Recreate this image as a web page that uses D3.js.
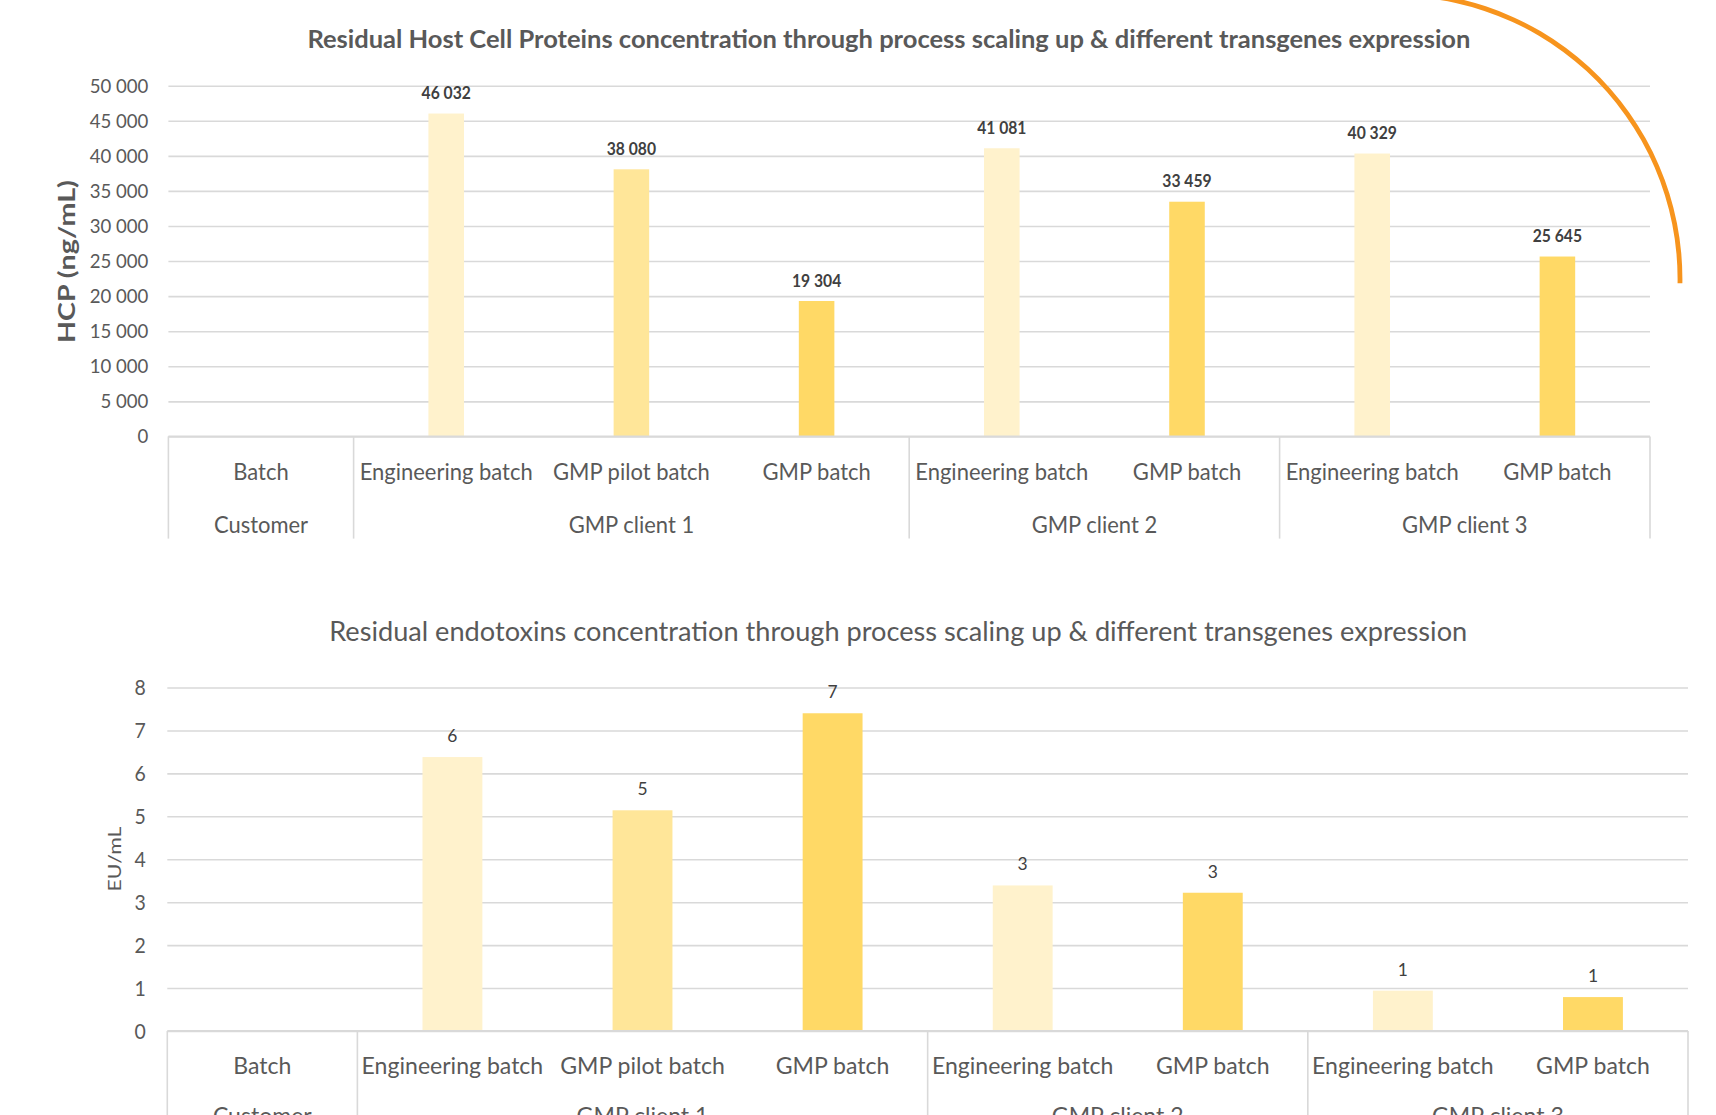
<!DOCTYPE html>
<html><head><meta charset="utf-8">
<script src="https://cdn.jsdelivr.net/npm/d3@7"></script>
<style>
body{margin:0;background:#fff;}
svg{display:block;}
text{font-family:Lato,'Open Sans',sans-serif;}
</style>
</head><body>
<svg id="c" width="1716" height="1115"></svg>
<script>
// ---------------- data ----------------
const batches = ["Batch","Engineering batch","GMP pilot batch","GMP batch","Engineering batch","GMP batch","Engineering batch","GMP batch"];
const customers = ["Customer","GMP client 1","GMP client 2","GMP client 3"];
const customerOf = [0,1,1,1,2,2,3,3];
const hcpValues = [null,46032,38080,19304,41081,33459,40329,25645];
const endoValues = [null,6.38,5.14,7.40,3.39,3.22,0.94,0.79];
const endoLabels = [null,"6","5","7","3","3","1","1"];
const hcpTicks = [0,5000,10000,15000,20000,25000,30000,35000,40000,45000,50000];
const endoTicks = [0,1,2,3,4,5,6,7,8];
const batchColors = {"Engineering batch":"#FFF2CC","GMP pilot batch":"#FFE699","GMP batch":"#FFD966"};
const hcpTitle = "Residual Host Cell Proteins concentration through process scaling up & different transgenes expression";
const endoTitle = "Residual endotoxins concentration through process scaling up & different transgenes expression";

// ---------------- helpers ----------------
const svg = d3.select("#c");
const GRID = "#D9D9D9", TXT = "#595959", LBL = "#404040";
const fmt = d3.formatLocale({decimal:",",thousands:" ",grouping:[3],currency:["","€"]}).format(",d");

function squeeze(sel,k){
  sel.each(function(){
    const w=this.getComputedTextLength();
    if(w>0){this.setAttribute("textLength",w*k);this.setAttribute("lengthAdjust","spacingAndGlyphs");}
  });
}
function kFor(size,weight,str,target){
  const t=svg.append("text").attr("font-size",size).attr("font-weight",weight).text(str);
  const w=t.node().getComputedTextLength(); t.remove(); return target/w;
}

function drawChart(cfg){
  const g = svg.append("g");
  const x = d3.scaleBand().domain(d3.range(batches.length)).range([cfg.left,cfg.right]).padding(0);
  const y = d3.scaleLinear().domain(cfg.domain).range([cfg.bottom,cfg.top]);
  const bw = x.bandwidth()*cfg.barRatio;

  // gridlines + tick labels
  const ax = g.append("g").attr("transform",`translate(${cfg.left},0)`)
    .call(d3.axisLeft(y).tickValues(cfg.ticks).tickFormat(cfg.tickFmt)
      .tickSize(-(cfg.right-cfg.left)).tickPadding(cfg.tickPad));
  ax.select(".domain").remove();
  ax.selectAll(".tick line").attr("stroke",GRID).attr("stroke-width",1.6);
  const tt = ax.selectAll(".tick text").attr("fill",TXT).attr("font-size",cfg.tickSize)
    .attr("font-family","Lato,'Open Sans',sans-serif").attr("font-weight",cfg.tickWeight);
  squeeze(tt,cfg.tickK);

  // bars
  const data = batches.map((b,i)=>({b,i,v:cfg.values[i],lab:cfg.labels[i]})).filter(d=>d.v!=null);
  g.selectAll("rect.bar").data(data).enter().append("rect")
    .attr("x",d=>x(d.i)+(x.bandwidth()-bw)/2).attr("width",bw)
    .attr("y",d=>y(d.v)).attr("height",d=>y(0)-y(d.v))
    .attr("fill",d=>batchColors[d.b]);
  const vl = g.selectAll("text.val").data(data).enter().append("text")
    .attr("x",d=>x(d.i)+x.bandwidth()/2).attr("y",d=>y(d.v)-cfg.valOff)
    .attr("text-anchor","middle").attr("font-size",cfg.valSize).attr("font-weight",cfg.valWeight)
    .attr("fill",LBL).text(d=>d.lab);
  squeeze(vl,cfg.valK);

  // category axis: baseline + separators
  g.append("line").attr("x1",cfg.left).attr("x2",cfg.right).attr("y1",y(0)).attr("y2",y(0))
    .attr("stroke",GRID).attr("stroke-width",1.8);
  const bounds = [0].concat(d3.range(1,batches.length).filter(i=>customerOf[i]!==customerOf[i-1])).concat([batches.length]);
  g.selectAll("line.sep").data(bounds).enter().append("line")
    .attr("x1",i=>i<batches.length?x(i):cfg.right).attr("x2",i=>i<batches.length?x(i):cfg.right)
    .attr("y1",y(0)).attr("y2",cfg.sepBottom).attr("stroke",GRID).attr("stroke-width",1.6);
  const c1 = g.selectAll("text.cat").data(batches).enter().append("text")
    .attr("x",(d,i)=>x(i)+x.bandwidth()/2).attr("y",cfg.row1)
    .attr("text-anchor","middle").attr("font-size",cfg.catSize).attr("fill",TXT).text(d=>d);
  squeeze(c1,cfg.catK);
  const c2 = g.selectAll("text.cust").data(customers).enter().append("text")
    .attr("x",(d,ci)=>{const idx=d3.range(batches.length).filter(i=>customerOf[i]===ci);
       return (x(idx[0])+x(idx[idx.length-1])+x.bandwidth())/2;})
    .attr("y",cfg.row2).attr("text-anchor","middle").attr("font-size",cfg.catSize).attr("fill",TXT).text(d=>d);
  squeeze(c2,cfg.catK);

  // title
  const t = g.append("text").attr("x",cfg.titleX).attr("y",cfg.titleY).attr("text-anchor","middle")
    .attr("font-size",cfg.titleSize).attr("font-weight",cfg.titleWeight).attr("fill",TXT).text(cfg.title);
  t.attr("textLength",cfg.titleW).attr("lengthAdjust","spacingAndGlyphs");
  // y axis title
  const yt = g.append("text").attr("transform",`translate(${cfg.ytX},${cfg.ytY}) rotate(-90)`)
    .attr("text-anchor","middle").attr("font-size",cfg.ytSize).attr("font-weight",cfg.ytWeight)
    .attr("fill",TXT).text(cfg.yTitle);
  yt.attr("textLength",cfg.ytW).attr("lengthAdjust","spacingAndGlyphs");
}

// ---------------- top chart ----------------
drawChart({
  left:168.4,right:1650,top:85.7,bottom:436.4,domain:[0,50000],ticks:hcpTicks,tickFmt:fmt,
  tickPad:20,tickSize:20,tickWeight:400,tickK:kFor(20,400,"50 000",58.7),
  values:hcpValues,labels:hcpValues.map(v=>v==null?null:fmt(v)),barRatio:0.192,
  valOff:14.5,valSize:16.5,valWeight:700,valK:kFor(16.5,700,"46 032",49.3),
  sepBottom:538.6,row1:480.3,row2:533.3,catSize:23.5,catK:kFor(23.5,400,"Engineering batch",173),
  title:hcpTitle,titleX:888.9,titleY:48.2,titleSize:25,titleWeight:700,titleW:1163,
  yTitle:"HCP (ng/mL)",ytX:75,ytY:261.6,ytSize:23,ytWeight:700,ytW:163
});

// ---------------- bottom chart ----------------
drawChart({
  left:167.3,right:1688,top:687.5,bottom:1031,domain:[0,8],ticks:endoTicks,tickFmt:d3.format("d"),
  tickPad:21.6,tickSize:22,tickWeight:400,tickK:kFor(22,400,"8",11.3),
  values:endoValues,labels:endoLabels,barRatio:0.315,
  valOff:15,valSize:17,valWeight:400,valK:kFor(22.5,400,"Engineering batch",181.6),
  sepBottom:1115,row1:1073.7,row2:1124,catSize:22.5,catK:kFor(22.5,400,"Engineering batch",181.6),
  title:endoTitle,titleX:898.2,titleY:641.4,titleSize:26,titleWeight:400,titleW:1138,
  yTitle:"EU/mL",ytX:121,ytY:859,ytSize:18,ytWeight:400,ytW:65
});

// ---------------- decorative orange arc ----------------
svg.append("path")
  .attr("transform","translate(1395,279)")
  .attr("d",d3.arc().innerRadius(282.6).outerRadius(287.4).startAngle(-0.1).endAngle(Math.PI/2+0.015)())
  .attr("fill","#F7941D");
</script>
</body></html>
